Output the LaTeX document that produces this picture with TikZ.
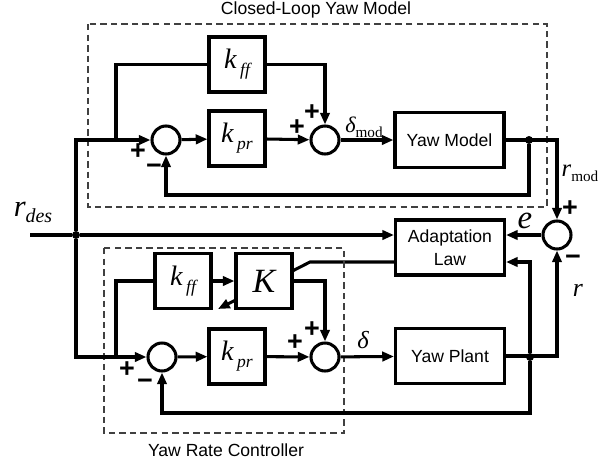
\documentclass[tikz,border=0pt]{standalone}
\usepackage{fontspec}
\setmainfont{Liberation Sans}
\newfontfamily\tms{Liberation Serif}
\usetikzlibrary{arrows.meta,positioning,calc,backgrounds}
\newcommand{\mvar}[2]{{\tms\itshape\fontsize{#1}{#1}\selectfont #2}}
\newcommand{\subs}[3]{\raisebox{#1}{\mvar{#2}{#3}}}
\newcommand{\kgain}[1]{\mvar{24}{k}\hspace{3pt}\subs{-6pt}{15}{#1}}
\newcommand{\upsub}[1]{\raisebox{-4pt}{{\tms\fontsize{13}{13}\selectfont #1}}}

\begin{document}
\begin{tikzpicture}[x=0.03cm,y=-0.03cm,
  font=\fontsize{15}{20}\selectfont,
  blk/.style={draw,line width=2.6pt,fill=white,minimum width=1.68cm,
              minimum height=1.65cm,inner sep=0pt},
  wide/.style={blk,minimum width=3.27cm,align=center},
  sum/.style={circle,draw,line width=2.6pt,fill=white,minimum size=0.84cm,inner sep=0pt},
  dot/.style={circle,fill,inner sep=0pt,minimum size=0.24cm},
  fl/.style={-{Triangle[length=10pt,width=8pt]},line width=2.6pt},
  ln/.style={line width=2.6pt},
  grp/.style={draw=black!75,line width=0.9pt,dash pattern=on 5.5pt off 3.5pt},
  sgn/.style={font=\fontsize{23}{23}\selectfont\bfseries,inner sep=0pt},
  lbl/.style={inner sep=0pt}
]
\useasboundingbox (0,0) rectangle (610,466);
% dashed groups
\draw[grp] (88,24) rectangle (547,207);
\node (ttlA) at (316,10) {Closed-Loop Yaw Model};
\draw[grp] (104,248) rectangle (344,433);
\node (ttlB) at (226,450) {Yaw Rate Controller};
% blocks
\node[blk] (kffA) at (237,64.5) {\kgain{ff}};
\node[blk] (kprA) at (237,138.5) {\kgain{pr}};
\node[sum] (sumA1) at (166,140) {};
\node[sum] (sumA2) at (325,140) {};
\node[wide] (model) at (449.5,140) {Yaw Model};
\node[wide] (adapt) at (450,247.5) {Adaptation\\Law};
\node[sum] (sumE) at (557,235) {};
\node[blk] (kffB) at (183,281) {\kgain{ff}};
\node[blk] (Kb) at (264,281) {\mvar{29}{K}};
\node[blk] (kprB) at (237,356.5) {\kgain{pr}};
\node[sum] (sumB1) at (162,357) {};
\node[sum] (sumB2) at (325,357) {};
\node[wide] (plant) at (450,356) {Yaw Plant};
% junctions
\coordinate (inL) at (30,235);
\node[dot] (jA) at (76,235) {};
\coordinate (brA) at (116,140);
\coordinate (brB) at (116,357);
\node[dot] (dotM) at (529,140) {};
\node[dot] (dotP) at (530,357) {};
\coordinate (fbA) at (529,195);
\coordinate (fbB) at (530,413);
\coordinate (kink) at (310,262);
\coordinate (tune) at (218,309);
% signals
\draw[ln] (inL) -- (jA);
\draw[fl] (jA) -- (jA -| adapt.west);
\draw[fl] (jA) |- (sumA1.west);
\draw[fl] (jA) |- (sumB1.west);
\draw[ln] (brA) |- (kffA.west);
\draw[fl] (kffA.east) -| (sumA2.north);
\draw[fl] (sumA1) -- (kprA);
\draw[fl] (kprA) -- (sumA2);
\draw[fl] (sumA2) -- (model);
\draw[fl] (model.east) -| (sumE.north);
\draw[fl] (dotM) -- (fbA) -| (sumA1.south);
\draw[fl] (sumE.west) -- (sumE.west -| adapt.east);
\draw[fl] (plant.east) -| (sumE.south);
\draw[fl] (dotP) |- (kink -| adapt.east);
\draw[fl] (dotP) -- (fbB) -| (sumB1.south);
\draw[ln] (brB) |- (kffB.west);
\draw[fl] (kffB) -- (Kb);
\draw[fl] (Kb.east) -| (sumB2.north);
\draw[fl] (sumB1) -- (kprB);
\draw[fl] (kprB) -- (sumB2);
\draw[fl] (sumB2) -- (plant);
\begin{pgfonlayer}{background}
\draw[fl] (kink -| adapt.west) -- (kink) -- (tune);
\end{pgfonlayer}
% labels
\node[lbl] (rdes) at (33,212) {\mvar{26}{r}\subs{-5pt}{17}{des}};
\node[lbl] (rmod) at (580,173) {\mvar{21}{r}\upsub{mod}};
\node[lbl] (err) at (525,221) {\mvar{28}{e}};
\node[lbl] (rout) at (578,290) {\mvar{22}{r}};
\node[lbl] (dmod) at (364,127) {\mvar{19}{δ}\upsub{mod}};
\node[lbl] (dplt) at (363,340) {\mvar{21}{δ}};
% signs
\node[sgn] (plE) at (570,209) {+};
\node[sgn] (miE) at (573,260) {−};
\node[sgn] (plA1) at (138,152) {+};
\node[sgn] (miA1) at (154,169) {−};
\node[sgn] (plA2) at (297,128) {+};
\node[sgn] (plA3) at (312,113) {+};
\node[sgn] (plB1) at (127,370) {+};
\node[sgn] (miB1) at (145,384) {−};
\node[sgn] (plB2) at (295,343) {+};
\node[sgn] (plB3) at (312,330) {+};
\end{tikzpicture}
\end{document}
